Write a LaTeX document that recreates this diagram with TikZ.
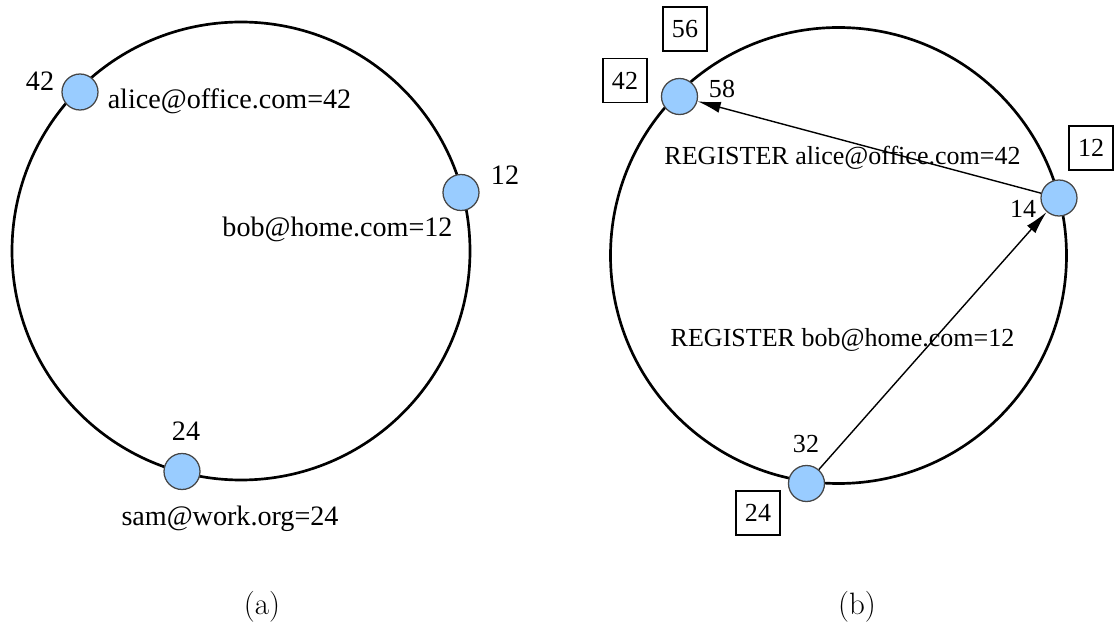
\documentclass[tikz,border=0pt]{standalone}
\usepackage{fontspec}
\usepackage{tikz}
\usetikzlibrary{arrows.meta,positioning}
\newfontfamily\shotfont{Liberation Serif}
\definecolor{peerblue}{RGB}{153,204,255}
\definecolor{peeredge}{RGB}{70,70,70}

\begin{document}
\begin{tikzpicture}[
    x=0.025cm,
    y=-0.025cm,
    ring/.style={draw, line width=1.9pt},
    peer/.style={circle, draw=peeredge, fill=peerblue, line width=0.9pt,
        minimum size=0.9cm, inner sep=0pt},
    biglabel/.style={font=\shotfont\fontsize{20}{24}\selectfont, inner sep=0pt},
    smalllabel/.style={font=\shotfont\fontsize{18.5}{22}\selectfont, inner sep=0pt},
    keybox/.style={smalllabel, draw, line width=0.9pt, minimum size=1.1cm},
    msg/.style={-{Latex[length=0.58cm,width=0.28cm]}, line width=1pt},
    caption/.style={font=\fontsize{22}{26}\selectfont}
]

\useasboundingbox (0,0) rectangle (1114,630);

% (a) ring with keys
\draw[ring] (241,251) circle [radius=229];

\node[peer] (a42) at (80,92) {};
\node[peer] (a12) at (461,192.5) {};
\node[peer] (a24) at (182,471.5) {};

\node[biglabel] (a42id) at (40,81) {42};
\node[biglabel] (a12id) at (505,175.5) {12};
\node[biglabel] (a24id) at (186,431.5) {24};

\node[biglabel, anchor=base] (a42key) at (229.5,109) {alice@office.com=42};
\node[biglabel, anchor=base] (a12key) at (337.5,237) {bob@home.com=12};
\node[biglabel, anchor=base] (a24key) at (230,525) {sam@work.org=24};

\node[caption] (capa) at (262,607) {(a)};

% (b) ring with registrations
\draw[ring] (838.5,255.5) circle [radius=228];

\node[peer] (b42) at (679.5,96.5) {};
\node[peer] (b12) at (1059,198) {};
\node[peer] (b24) at (806.5,483.5) {};

\node[keybox] (b56box) at (685,29) {56};
\node[keybox] (b42box) at (625,80.5) {42};
\node[keybox] (b12box) at (1091,148) {12};
\node[keybox] (b24box) at (758,513) {24};

\node[smalllabel] (b58id) at (722,88.5) {58};
\node[smalllabel] (b14id) at (1023,209) {14};
\node[smalllabel] (b32id) at (806,444) {32};

% messages
\draw[msg] (b12) -- (b42);
\draw[msg] (b24) -- (b12);

\node[smalllabel, anchor=base] (regalice) at (842.5,165) {REGISTER alice@office.com=42};
\node[smalllabel, anchor=base] (regbob) at (842.5,347) {REGISTER bob@home.com=12};

\node[caption] (capb) at (857,607) {(b)};
\end{tikzpicture}
\end{document}
